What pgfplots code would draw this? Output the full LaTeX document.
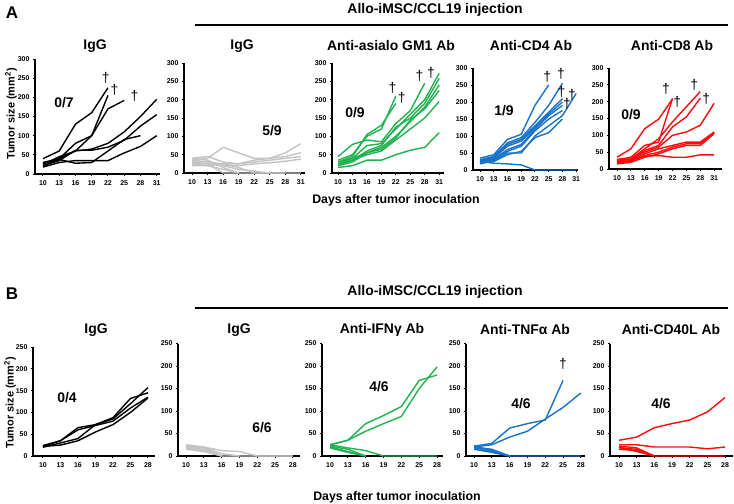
\documentclass[border=0pt]{standalone}
\usepackage{fontspec}
\setmainfont{Liberation Sans}
\usepackage{pgfplots}
\pgfplotsset{compat=1.18}
\definecolor{cgray}{RGB}{195,195,195}
\definecolor{cgreen}{RGB}{32,178,80}
\definecolor{cblue}{RGB}{24,114,200}
\definecolor{cred}{RGB}{255,10,10}
\pgfplotsset{
  panel/.style={
    scale only axis, anchor=south west,
    axis lines=left, axis line style={-, line width=1.6bp},
    ymin=0,
    tick align=outside, major tick length=2bp, tick style={black, line width=1bp},
    ticklabel style={font=\fontsize{7}{8}\selectfont\bfseries},
    xticklabel style={yshift=-1.5bp},
    /pgf/number format/assume math mode=true,
    every axis plot/.append style={line width=1.4bp, mark=none},
    clip=false,
  },
  pA/.style={panel, ymax=300, ytick={0,50,...,300}, xtick={10,13,...,31}},
  pB/.style={panel, ymax=250, ytick={0,50,...,250}, xtick={10,13,...,28}},
}
\newcommand{\dg}[2]{\node[font=\fontsize{14}{14}\selectfont, inner sep=0pt] at (axis cs:#1,#2) {†};}
\begin{document}
\begin{tikzpicture}
\path[use as bounding box] (0,0) rectangle (734bp,-504bp);
\tikzset{lab/.style={font=\fontsize{14}{14}\selectfont\bfseries, inner sep=0pt}}
% ---------- Panel A ----------
\node[font=\fontsize{17}{17}\selectfont\bfseries] at (12bp,-13bp) {A};
\node[lab] at (435bp,-10bp) {Allo-iMSC/CCL19 injection};
\draw[line width=1.5bp] (195bp,-25bp) -- (728bp,-25bp);
\node[lab] at (95bp,-46bp) {IgG};
\node[lab] at (242bp,-46bp) {IgG};
\node[lab] at (391bp,-46bp) {Anti-asialo GM1 Ab};
\node[lab] at (531bp,-46bp) {Anti-CD4 Ab};
\node[lab] at (672bp,-46bp) {Anti-CD8 Ab};
\node[font=\fontsize{11}{11}\selectfont\bfseries, rotate=90] at (11bp,-114bp) {Tumor size (mm\textsuperscript{2})};
\node[font=\fontsize{12.4}{12.4}\selectfont\bfseries] at (396bp,-200bp) {Days after tumor inoculation};
\node[lab] at (64bp,-103bp) {0/7};
\node[lab] at (272bp,-131bp) {5/9};
\node[lab] at (355bp,-113bp) {0/9};
\node[lab] at (504bp,-111bp) {1/9};
\node[lab] at (631bp,-115bp) {0/9};

% A1 IgG black
\begin{axis}[pA, at={(35bp,-174bp)}, width=125bp, height=115bp, xmin=8.53, xmax=31.6]
\addplot[black] coordinates {(10,40)(13,60)(16,130)(19,160)(22,225)};
\addplot[black] coordinates {(10,25)(13,45)(16,60)(19,100)(22,205)};
\addplot[black] coordinates {(10,30)(13,40)(16,80)(19,100)(22,170)(25,192)};
\addplot[black] coordinates {(10,20)(13,40)(16,60)(19,65)(22,80)(25,110)(28,150)(31,195)};
\addplot[black] coordinates {(10,22)(13,35)(16,62)(19,62)(22,70)(25,88)(28,125)(31,155)};
\addplot[black] coordinates {(10,18)(13,30)(16,35)(19,35)(22,35)(25,55)(28,72)(31,100)};
\addplot[black] coordinates {(10,28)(13,38)(16,28)(19,30)(22,60)(25,90)(28,100)};
\dg{21.6}{250}\dg{23.2}{220}\dg{26.9}{204}
\end{axis}
% A2 IgG gray
\begin{axis}[pA, at={(184bp,-173bp)}, width=121bp, height=110bp, xmin=8.45, xmax=31.8]
\addplot[cgray] coordinates {(10,35)(13,40)(16,70)(19,55)(22,40)(25,40)(28,55)(31,80)};
\addplot[cgray] coordinates {(10,40)(13,45)(16,30)(19,25)(22,35)(25,40)(28,45)(31,55)};
\addplot[cgray] coordinates {(10,30)(13,30)(16,25)(19,25)(22,30)(25,35)(28,40)(31,45)};
\addplot[cgray] coordinates {(10,25)(13,25)(16,20)(19,20)(22,25)(25,28)(28,32)(31,38)};
\addplot[cgray] coordinates {(10,40)(13,35)(16,15)(19,0)(22,0)(25,0)(28,0)(31,0)};
\addplot[cgray] coordinates {(10,30)(13,25)(16,0)(19,0)};
\addplot[cgray] coordinates {(10,20)(13,20)(16,25)(19,15)(22,0)(25,0)};
\addplot[cgray] coordinates {(10,35)(13,30)(16,20)(19,10)(22,5)(25,0)(28,0)};
\addplot[cgray] coordinates {(10,25)(13,20)(16,10)(19,0)};
\end{axis}
% A3 asialo green
\begin{axis}[pA, at={(332bp,-173bp)}, width=112bp, height=110bp, xmin=8.74, xmax=32]
\addplot[cgreen] coordinates {(10,35)(13,50)(16,100)(19,120)(22,210)};
\addplot[cgreen] coordinates {(10,30)(13,45)(16,105)(19,130)(22,190)};
\addplot[cgreen] coordinates {(10,45)(13,78)(16,90)(19,85)(22,135)(25,170)(28,245)};
\addplot[cgreen] coordinates {(10,25)(13,40)(16,75)(19,80)(22,120)(25,160)(28,200)(31,272)};
\addplot[cgreen] coordinates {(10,20)(13,35)(16,60)(19,75)(22,125)(25,150)(28,190)(31,258)};
\addplot[cgreen] coordinates {(10,20)(13,30)(16,55)(19,70)(22,100)(25,140)(28,180)(31,240)};
\addplot[cgreen] coordinates {(10,30)(13,40)(16,55)(19,65)(22,95)(25,145)(28,175)(31,225)};
\addplot[cgreen] coordinates {(10,25)(13,35)(16,50)(19,60)(22,90)(25,120)(28,150)(31,195)};
\addplot[cgreen] coordinates {(10,15)(13,20)(16,35)(19,35)(22,50)(25,62)(28,70)(31,110)};
\dg{21.3}{231}\dg{23.2}{204}\dg{26.9}{264}\dg{29.3}{273}
\end{axis}
% A4 CD4 blue
\begin{axis}[pA, at={(473bp,-170bp)}, width=105bp, height=102bp, xmin=8.47, xmax=31.4]
\addplot[cblue] coordinates {(10,35)(13,45)(16,90)(19,105)(22,190)(25,250)};
\addplot[cblue] coordinates {(10,30)(13,40)(16,80)(19,95)(22,140)(25,190)(28,255)};
\addplot[cblue] coordinates {(10,28)(13,38)(16,75)(19,90)(22,130)(25,170)(28,210)};
\addplot[cblue] coordinates {(10,25)(13,35)(16,70)(19,85)(22,125)(25,165)(28,200)};
\addplot[cblue] coordinates {(10,22)(13,32)(16,60)(19,75)(22,120)(25,160)(28,190)};
\addplot[cblue] coordinates {(10,20)(13,30)(16,55)(19,70)(22,115)(25,150)(28,175)};
\addplot[cblue] coordinates {(10,18)(13,28)(16,50)(19,50)(22,100)(25,130)(28,160)(31,225)};
\addplot[cblue] coordinates {(10,20)(13,25)(16,45)(19,55)(22,95)(25,110)(28,150)};
\addplot[cblue] coordinates {(10,25)(13,20)(16,18)(19,15)(22,0)(25,0)(28,0)(31,0)};
\dg{24.7}{274}\dg{27.7}{282}\dg{27.8}{230}\dg{30.1}{222}\dg{29.0}{195}
\end{axis}
% A5 CD8 red
\begin{axis}[pA, at={(609bp,-169bp)}, width=113bp, height=101bp, xmin=8.27, xmax=32.7]
\addplot[cred] coordinates {(10,35)(13,60)(16,120)(19,148)(22,208)};
\addplot[cred] coordinates {(10,28)(13,35)(16,70)(19,80)(22,210)};
\addplot[cred] coordinates {(10,25)(13,30)(16,60)(19,90)(22,140)(25,185)(28,230)};
\addplot[cred] coordinates {(10,25)(13,30)(16,55)(19,70)(22,125)(25,155)(28,210)};
\addplot[cred] coordinates {(10,22)(13,28)(16,50)(19,65)(22,100)(25,110)(28,130)(31,195)};
\addplot[cred] coordinates {(10,20)(13,25)(16,45)(19,60)(22,70)(25,80)(28,80)(31,110)};
\addplot[cred] coordinates {(10,18)(13,22)(16,40)(19,50)(22,65)(25,75)(28,75)(31,108)};
\addplot[cred] coordinates {(10,15)(13,20)(16,35)(19,45)(22,60)(25,70)(28,70)(31,105)};
\addplot[cred] coordinates {(10,20)(13,25)(16,38)(19,40)(22,35)(25,35)(28,42)(31,42)};
\dg{20.6}{237}\dg{23}{199}\dg{26.7}{249}\dg{29.3}{208}
\end{axis}

% ---------- Panel B ----------
\node[font=\fontsize{17}{17}\selectfont\bfseries] at (12bp,-294bp) {B};
\node[lab] at (435bp,-292bp) {Allo-iMSC/CCL19 injection};
\draw[line width=1.5bp] (195bp,-308bp) -- (728bp,-308bp);
\node[lab] at (96bp,-330bp) {IgG};
\node[lab] at (239bp,-330bp) {IgG};
\node[lab] at (382bp,-330bp) {Anti-IFNγ Ab};
\node[lab] at (525bp,-330bp) {Anti-TNFα Ab};
\node[lab] at (671bp,-330bp) {Anti-CD40L Ab};
\node[font=\fontsize{11}{11}\selectfont\bfseries, rotate=90] at (10bp,-403bp) {Tumor size (mm\textsuperscript{2})};
\node[font=\fontsize{12.4}{12.4}\selectfont\bfseries] at (397bp,-497bp) {Days after tumor inoculation};
\node[lab] at (67bp,-398bp) {0/4};
\node[lab] at (262bp,-428bp) {6/6};
\node[lab] at (379bp,-387bp) {4/6};
\node[lab] at (521bp,-404bp) {4/6};
\node[lab] at (661bp,-404bp) {4/6};

% B1 IgG black
\begin{axis}[pB, at={(33bp,-456bp)}, width=122bp, height=109bp, xmin=8.3, xmax=29.2]
\addplot[black] coordinates {(10,22)(13,35)(16,65)(19,72)(22,88)(25,132)(28,145)};
\addplot[black] coordinates {(10,20)(13,30)(16,40)(19,72)(22,85)(25,120)(28,157)};
\addplot[black] coordinates {(10,22)(13,25)(16,35)(19,55)(22,72)(25,100)(28,133)};
\addplot[black] coordinates {(10,24)(13,35)(16,60)(19,70)(22,80)(25,110)(28,135)};
\end{axis}
% B2 IgG gray
\begin{axis}[pB, at={(178bp,-456bp)}, width=122bp, height=112.5bp, xmin=8.65, xmax=29.2]
\addplot[cgray] coordinates {(10,25)(13,20)(16,12)(19,10)(22,0)(25,0)(28,0)};
\addplot[cgray] coordinates {(10,22)(13,18)(16,0)(19,0)};
\addplot[cgray] coordinates {(10,20)(13,15)(16,0)};
\addplot[cgray] coordinates {(10,18)(13,12)(16,0)};
\addplot[cgray] coordinates {(10,15)(13,10)(16,0)};
\addplot[cgray] coordinates {(10,22)(13,20)(16,5)(19,0)(22,0)(25,0)(28,0)};
\end{axis}
% B3 IFNg green
\begin{axis}[pB, at={(322bp,-456bp)}, width=121bp, height=112.5bp, xmin=8.65, xmax=29.0]
\addplot[cgreen] coordinates {(10,25)(13,35)(16,72)(19,90)(22,110)(25,168)(28,180)};
\addplot[cgreen] coordinates {(10,25)(13,35)(16,55)(19,72)(22,88)(25,150)(28,198)};
\addplot[cgreen] coordinates {(10,25)(13,18)(16,12)(19,0)(22,0)(25,0)(28,0)};
\addplot[cgreen] coordinates {(10,22)(13,15)(16,0)};
\addplot[cgreen] coordinates {(10,20)(13,10)(16,0)};
\addplot[cgreen] coordinates {(10,18)(13,8)(16,0)};
\end{axis}
% B4 TNFa blue
\begin{axis}[pB, at={(466bp,-456bp)}, width=119bp, height=112.5bp, xmin=8.65, xmax=28.7]
\addplot[cblue] coordinates {(10,22)(13,28)(16,62)(19,72)(22,80)(25,168)};
\addplot[cblue] coordinates {(10,20)(13,25)(16,42)(19,55)(22,82)(25,108)(28,140)};
\addplot[cblue] coordinates {(10,22)(13,12)(16,0)(19,0)(22,0)(25,0)(28,0)};
\addplot[cblue] coordinates {(10,18)(13,10)(16,0)};
\addplot[cblue] coordinates {(10,20)(13,15)(16,0)};
\addplot[cblue] coordinates {(10,15)(13,8)(16,0)};
\dg{25}{205}
\end{axis}
% B5 CD40L red
\begin{axis}[pB, at={(610bp,-456bp)}, width=123bp, height=112.5bp, xmin=8.47, xmax=29.35]
\addplot[cred] coordinates {(10,35)(13,42)(16,63)(19,72)(22,80)(25,98)(28,130)};
\addplot[cred] coordinates {(10,25)(13,25)(16,20)(19,20)(22,20)(25,16)(28,20)};
\addplot[cred] coordinates {(10,22)(13,18)(16,0)(19,0)(22,0)(25,0)(28,0)};
\addplot[cred] coordinates {(10,18)(13,15)(16,0)};
\addplot[cred] coordinates {(10,15)(13,12)(16,0)};
\addplot[cred] coordinates {(10,20)(13,10)(16,0)};
\end{axis}
\end{tikzpicture}
\end{document}
